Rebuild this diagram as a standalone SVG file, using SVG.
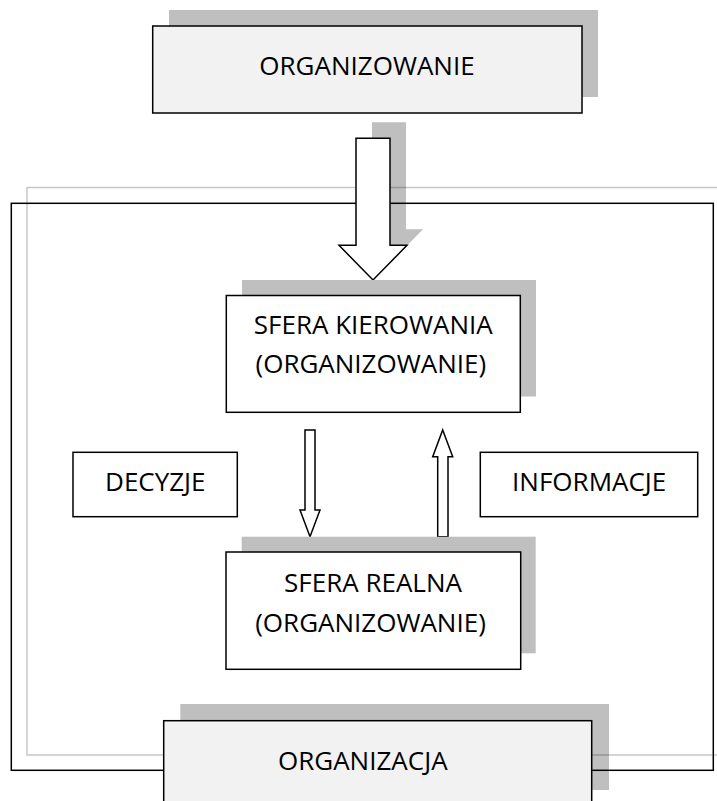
<svg xmlns="http://www.w3.org/2000/svg" width="717" height="801" viewBox="0 0 717 801">
  <defs>
    <style>
      .shadow { fill: #bfbfbf; stroke: none; }
      .box { fill: #ffffff; stroke: #000; stroke-width: 1.5; }
      .box-grey { fill: #f2f2f2; stroke: #000; stroke-width: 1.5; }
      .arrow { fill: #ffffff; stroke: #000; stroke-width: 1.5; stroke-linejoin: miter; }
      .frame-outer { fill: none; stroke: #000; stroke-opacity: 0.22; stroke-width: 1.5; }
      .frame-inner { fill: none; stroke: #000; stroke-width: 1.5; }
      .label { font-family: "Open Sans", "Liberation Sans", sans-serif; font-size: 26px; fill: #000; text-anchor: middle; }
    </style>
  </defs>

  <!-- top box: ORGANIZOWANIE -->
  <g id="node-organizowanie">
    <rect class="shadow" x="169" y="10" width="429" height="87"/>
    <rect class="box-grey" x="152.7" y="26" width="429.3" height="87"/>
    <text class="label" x="367" y="75">ORGANIZOWANIE</text>
  </g>

  <!-- shadows drawn beneath the frames -->
  <g id="shadows">
    <polygon class="shadow" points="372,122.3 406,122.3 406,229.3 423,229.3 389,264 355,229.3 372,229.3"/>
    <rect class="shadow" x="180.3" y="704" width="428.7" height="86"/>
  </g>

  <!-- organisation frames -->
  <g id="frames">
    <rect class="frame-outer" x="27" y="187.5" width="720" height="567.5"/>
    <rect class="frame-inner" x="11.3" y="203.3" width="702" height="567"/>
  </g>

  <!-- connectors -->
  <g id="connectors">
    <polygon class="arrow" points="356,138.3 390,138.3 390,245.3 407,245.3 373,280 339,245.3 356,245.3"/>
    <polygon class="arrow" points="305,430 315,430 315,510 320,510 310,536.7 300,510 305,510"/>
    <polygon class="arrow" points="442.7,430 452.7,456.7 448,456.7 448,536.7 437.7,536.7 437.7,456.7 432.7,456.7"/>
  </g>

  <!-- SFERA KIEROWANIA -->
  <g id="node-sfera-kierowania">
    <rect class="shadow" x="242" y="280" width="294" height="116.5"/>
    <rect class="box" x="226.3" y="295.5" width="294" height="116.8"/>
    <text class="label" x="373.3" y="334.3">SFERA KIEROWANIA</text>
    <text class="label" x="370.8" y="372.7">(ORGANIZOWANIE)</text>
  </g>

  <!-- DECYZJE -->
  <g id="node-decyzje">
    <rect class="box" x="73" y="452.3" width="164.3" height="64.4"/>
    <text class="label" x="155.3" y="490.7">DECYZJE</text>
  </g>

  <!-- INFORMACJE -->
  <g id="node-informacje">
    <rect class="box" x="480.3" y="452.3" width="217.4" height="64.4"/>
    <text class="label" x="589.2" y="490.7">INFORMACJE</text>
  </g>

  <!-- SFERA REALNA -->
  <g id="node-sfera-realna">
    <rect class="shadow" x="241.7" y="536.7" width="294" height="116.6"/>
    <rect class="box" x="226" y="552" width="294.7" height="117.3"/>
    <text class="label" x="373" y="591.7">SFERA REALNA</text>
    <text class="label" x="370.5" y="631.7">(ORGANIZOWANIE)</text>
  </g>

  <!-- ORGANIZACJA -->
  <g id="node-organizacja">
    <rect class="box-grey" x="163.7" y="720.7" width="428" height="90"/>
    <text class="label" x="362.8" y="770">ORGANIZACJA</text>
  </g>
</svg>
